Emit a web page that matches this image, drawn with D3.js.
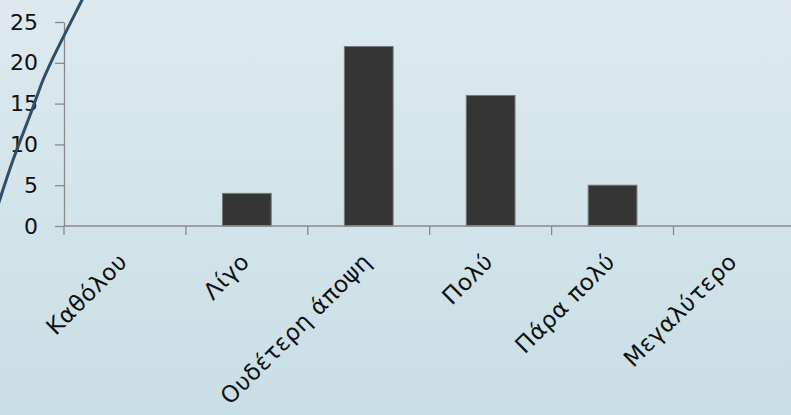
<!DOCTYPE html>
<html><head><meta charset="utf-8">
<script src="https://cdn.jsdelivr.net/npm/d3@7"></script>
<style>html,body{margin:0;padding:0;overflow:hidden;}svg{display:block;}</style>
</head><body>
<svg id="chart" width="791" height="415"></svg>
<script>
const categories = ["Καθόλου", "Λίγο", "Ουδέτερη άποψη", "Πολύ", "Πάρα πολύ", "Μεγαλύτερο"];
const values = [0, 4, 22, 16, 5, 0];
const yTicks = [0, 5, 10, 15, 20, 25];

const W = 791, H = 415;
const svg = d3.select("#chart");
const defs = svg.append("defs");
const grad = defs.append("linearGradient").attr("id","bg").attr("x1",0).attr("y1",0).attr("x2",0).attr("y2",1);
grad.append("stop").attr("offset","0%").attr("stop-color","#dde9ee");
grad.append("stop").attr("offset","100%").attr("stop-color","#c8dfe5");
svg.append("rect").attr("width",W).attr("height",H).attr("fill","url(#bg)");

const font = "'DejaVu Sans', sans-serif";
const x = d3.scaleBand().domain(categories).range([64, 795.4]).padding(0);
const y = d3.scaleLinear().domain([0, 25]).range([226, 22]);
const axisColor = "#8a8a8a";

// bars
const bw = x.bandwidth() * 0.4;
svg.append("g").selectAll("rect").data(categories).join("rect")
  .attr("x", (d) => x(d) + (x.bandwidth() - bw) / 2)
  .attr("y", (d, i) => y(values[i]))
  .attr("width", bw)
  .attr("height", (d, i) => y(0) - y(values[i]))
  .attr("fill", "#353535")
  .attr("stroke", "#7a7a7a")
  .attr("stroke-width", 1)
  .attr("display", (d, i) => values[i] > 0 ? null : "none");

// y axis
const yAxis = svg.append("g").attr("transform","translate(64,0)")
  .call(d3.axisLeft(y).tickValues(yTicks).tickSize(9).tickPadding(17).tickSizeOuter(0));
yAxis.select(".domain").attr("stroke", axisColor).attr("stroke-width",1.3);
yAxis.selectAll(".tick line").attr("stroke", axisColor).attr("stroke-width",1.3);
yAxis.selectAll(".tick text").attr("font-family", font).attr("font-size", 22).attr("fill","#111");

// x axis
const xAxis = svg.append("g").attr("transform","translate(0,226)");
xAxis.append("line").attr("x1", 64).attr("x2", 795.4).attr("y1",0).attr("y2",0)
  .attr("stroke", axisColor).attr("stroke-width",1.3);
xAxis.selectAll("line.tk").data(categories).join("line").attr("class","tk")
  .attr("x1", (d) => x(d)).attr("x2", (d) => x(d)).attr("y1", 0).attr("y2", 9)
  .attr("stroke", axisColor).attr("stroke-width",1.3);
xAxis.selectAll("text").data(categories).join("text")
  .attr("transform", (d) => `translate(${x(d) + x.bandwidth()/2 + 4},${37}) rotate(-45)`)
  .attr("text-anchor","end")
  .attr("font-family", font).attr("font-size", 23).attr("letter-spacing", 0.6).attr("fill","#111")
  .text((d) => d);

// decorative curve
const curvePts = [[88,-12],[82,0],[52,60],[43,80],[32,110],[13,160],[0,199],[-4,212]];
svg.append("path").attr("d", d3.line().curve(d3.curveCatmullRom)(curvePts))
  .attr("fill","none").attr("stroke","#2d5069").attr("stroke-width",3);
</script>
</body></html>
